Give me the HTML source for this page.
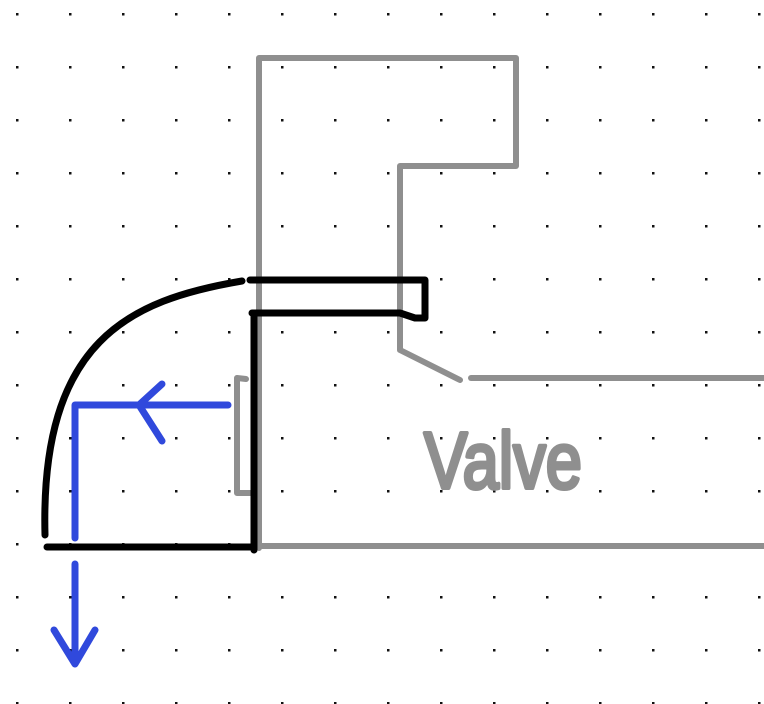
<!DOCTYPE html>
<html><head><meta charset="utf-8"><style>
html,body{margin:0;padding:0;background:#fff;}
svg{display:block}
</style></head><body>
<svg width="764" height="704" viewBox="0 0 764 704" xmlns="http://www.w3.org/2000/svg">
<defs>
<pattern id="g" x="16" y="13" width="53" height="53" patternUnits="userSpaceOnUse">
<rect x="0" y="0" width="2.5" height="2.5" fill="#111"/>
</pattern>
</defs>
<rect width="764" height="704" fill="url(#g)"/>
<g fill="none" stroke="#8f8f8f" stroke-width="6" stroke-linecap="round" stroke-linejoin="round">
<polyline points="259,548 259,58 516,58 516,166 400,166 400,350 460,380"/>
<line x1="471" y1="378" x2="766" y2="378"/>
<line x1="259" y1="546" x2="766" y2="546"/>
<polyline points="246,379 237,378 237,493 250,493"/>
</g>
<text x="424" y="488" font-family="Liberation Sans, sans-serif" font-size="80" fill="#8f8f8f" stroke="#8f8f8f" stroke-width="4" stroke-linejoin="round" textLength="158" lengthAdjust="spacingAndGlyphs">Valve</text>
<g fill="none" stroke="#000" stroke-width="7" stroke-linecap="round" stroke-linejoin="round">
<polyline points="250,280 425,280 425,318 415,318 400,313 252,313"/>
<line x1="254" y1="313" x2="254" y2="550"/>
<line x1="47" y1="547" x2="254" y2="547"/>
<path d="M242,281 C130,300 40,340 45,535"/>
</g>
<g fill="none" stroke="#3049dc" stroke-width="7" stroke-linecap="round" stroke-linejoin="round">
<polyline points="75,538 75,405 228,405"/>
<polyline points="162,384 139,405 162,441"/>
<line x1="75" y1="564" x2="75" y2="660"/>
<polyline points="54,630 75,664 95,630"/>
</g>
</svg>
</body></html>
